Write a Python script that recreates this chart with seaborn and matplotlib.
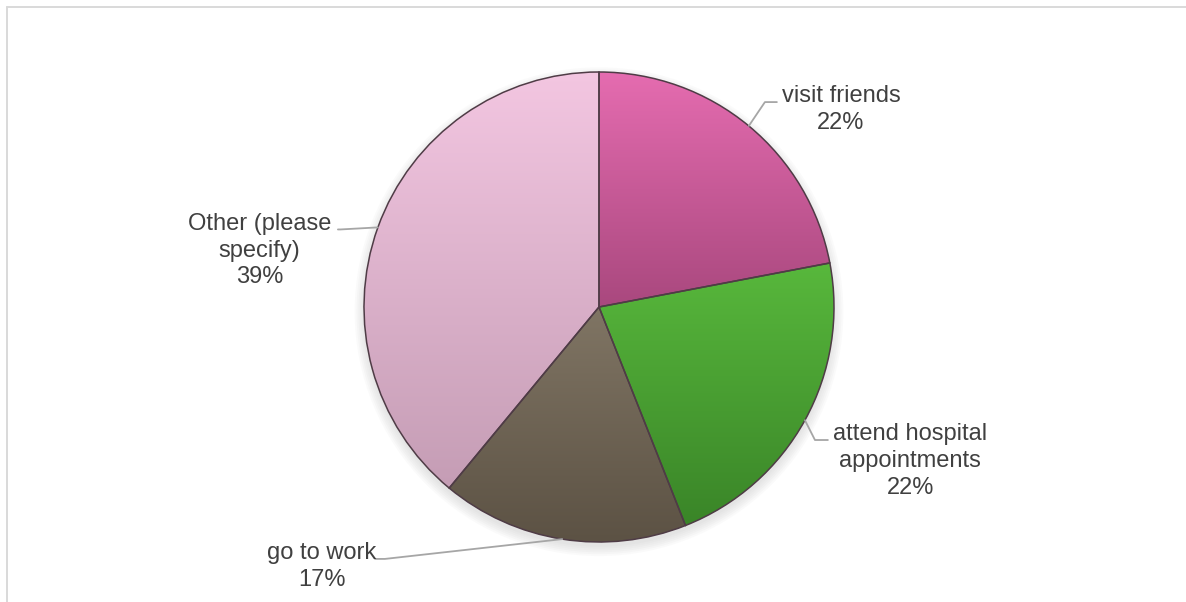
import numpy as np
import matplotlib
matplotlib.use('Agg')
import matplotlib.pyplot as plt
import seaborn as sns
from matplotlib.lines import Line2D
from matplotlib.patches import Wedge, Circle

# chart data
labels = ['visit friends', 'attend hospital\nappointments', 'go to work', 'Other (please\nspecify)']
shares = [22, 22, 17, 39]

# slice shading, light at top of the slice to dark at bottom
top_colors = ['#e56cb0', '#58b83c', '#807564', '#f3c6e1']
bottom_colors = ['#a9487e', '#3a8528', '#5c5244', '#c59db5']

# label layout (pie radius = 1)
label_pos = [(1.03, 0.84), (1.325, -0.655), (-1.18, -1.105), (-1.445, 0.24)]
knee_pos = [(0.706, 0.872), (0.919, -0.566), (-0.911, -1.072), (-1.10, 0.33)]
end_pos = [(0.757, 0.872), (0.974, -0.566), (-0.953, -1.072), (-1.111, 0.33)]

sns.set_theme(style='white')
plt.rcParams['font.family'] = ['Liberation Sans', 'DejaVu Sans']

W, H = 1186, 602
CX, CY, R_PX = 599, 307, 235

fig = plt.figure(figsize=(W / 100, H / 100), dpi=100)
fig.patch.set_facecolor('white')
ax = fig.add_axes([0, 0, 1, 1])

# soft shadow under the pie
for k in range(6):
    ax.add_patch(Circle((0.0, -0.02), 1.0 + 0.008 * k, color='#808080',
                        alpha=0.035, lw=0, zorder=0))

wedges, _ = ax.pie(shares, startangle=90, counterclock=False,
                   colors=sns.color_palette(top_colors),
                   wedgeprops=dict(linewidth=0))

grad = np.linspace(0, 1, 256).reshape(-1, 1)
for w, c0, c1 in zip(wedges, top_colors, bottom_colors):
    t = np.radians(np.linspace(w.theta1, w.theta2, 200))
    xs = np.concatenate([[w.center[0]], w.center[0] + w.r * np.cos(t)])
    ys = np.concatenate([[w.center[1]], w.center[1] + w.r * np.sin(t)])
    cmap = sns.blend_palette([c0, c1], as_cmap=True)
    im = ax.imshow(grad, cmap=cmap, aspect='auto', interpolation='bilinear',
                   extent=[xs.min(), xs.max(), ys.min(), ys.max()],
                   origin='upper', zorder=2)
    im.set_clip_path(w)
    ax.add_patch(Wedge(w.center, w.r, w.theta1, w.theta2, fill=False,
                       edgecolor='#4f3c46', linewidth=1.1, zorder=3))

# leader lines and labels
for w, lab, s, lp, kp, ep in zip(wedges, labels, shares, label_pos, knee_pos, end_pos):
    mid = np.radians((w.theta1 + w.theta2) / 2)
    ex = w.center[0] + w.r * np.cos(mid)
    ey = w.center[1] + w.r * np.sin(mid)
    ax.plot([ex, kp[0], ep[0]], [ey, kp[1], ep[1]], color='#a6a6a6', lw=1.3, zorder=4)
    ax.text(lp[0], lp[1], f'{lab}\n{s}%', ha='center', va='center',
            fontsize=17, color='#404040', linespacing=1.28, zorder=5)

ax.set_xlim(-CX / R_PX, (W - CX) / R_PX)
ax.set_ylim(-(H - CY) / R_PX, CY / R_PX)
ax.set_aspect('auto')
ax.axis('off')

# chart area border (top and left visible)
fig.add_artist(Line2D([7 / W, 1], [1 - 7 / H, 1 - 7 / H], color='#d9d9d9', lw=1.4))
fig.add_artist(Line2D([7 / W, 7 / W], [0, 1 - 7 / H], color='#d9d9d9', lw=1.4))

fig.savefig('out.png', dpi=100)
